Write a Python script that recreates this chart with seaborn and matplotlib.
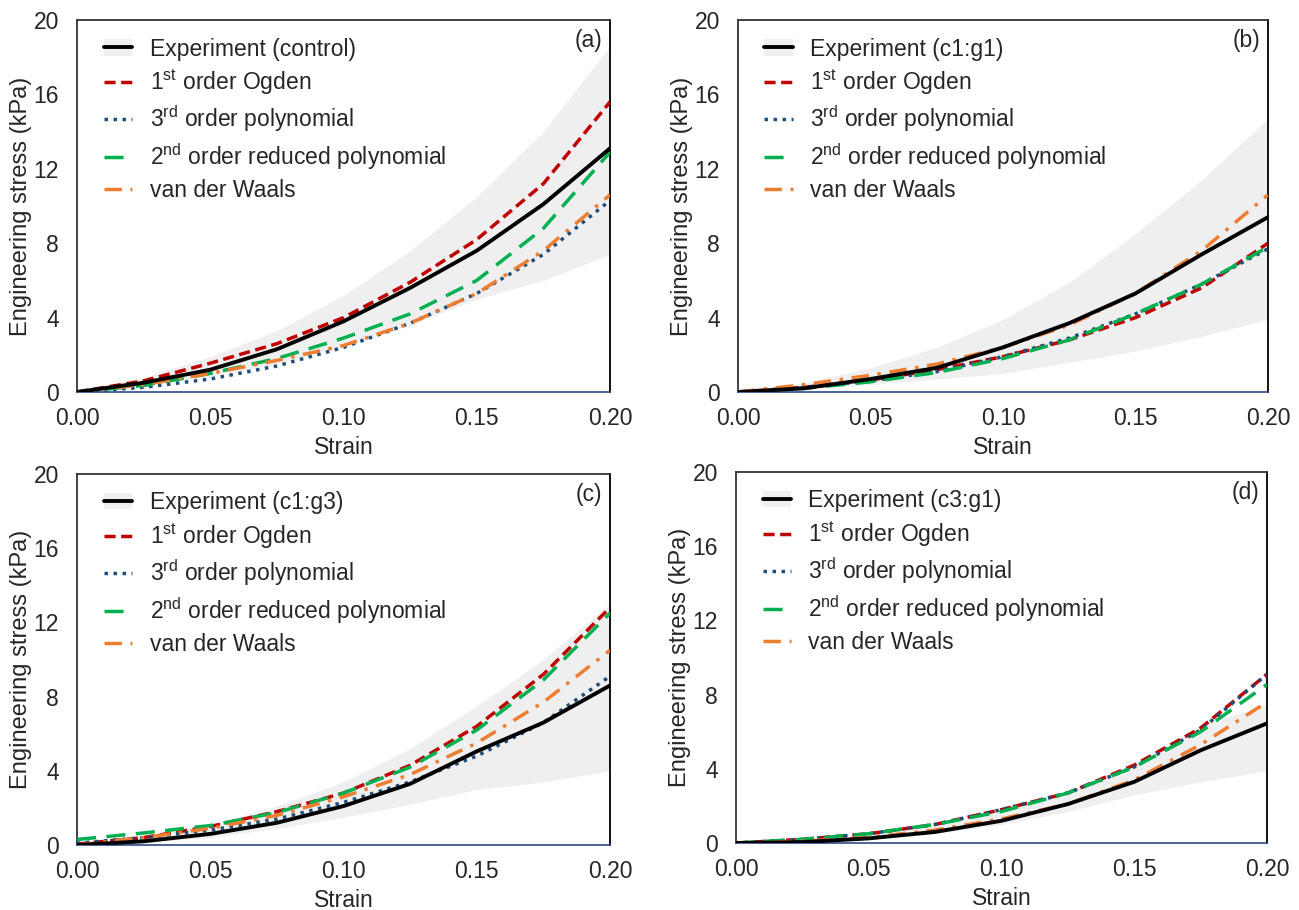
import matplotlib
matplotlib.use("Agg")
import matplotlib.pyplot as plt
from matplotlib.lines import Line2D
from matplotlib.patches import Patch
import seaborn as sns
import numpy as np

sns.set_style("white")
plt.rcParams['font.family'] = ['Liberation Sans', 'DejaVu Sans']
plt.rcParams['mathtext.fontset'] = 'custom'
plt.rcParams['mathtext.rm'] = 'Liberation Sans'
plt.rcParams['mathtext.it'] = 'Liberation Sans'

strain = [0.0, 0.025, 0.05, 0.075, 0.1, 0.125, 0.15, 0.175, 0.2]

# panel (a) control
a_exp = [0, 0.5, 1.2, 2.3, 3.8, 5.6, 7.6, 10.1, 13.1]
a_lo = [0, 0.35, 0.85, 1.5, 2.5, 3.6, 5.0, 6.0, 7.4]
a_hi = [0, 0.8, 1.9, 3.3, 5.2, 7.6, 10.5, 14.0, 18.6]
a_ogden = [0, 0.6, 1.55, 2.6, 4.0, 5.9, 8.2, 11.2, 15.6]
a_poly3 = [0, 0.25, 0.7, 1.4, 2.4, 3.7, 5.3, 7.4, 10.3]
a_red2 = [0, 0.35, 1.0, 1.8, 2.9, 4.2, 6.0, 8.8, 12.9]
a_vdw = [0, 0.4, 1.0, 1.7, 2.5, 3.7, 5.3, 7.6, 10.6]

# panel (b) c1:g1
b_exp = [0, 0.2, 0.7, 1.3, 2.4, 3.7, 5.3, 7.4, 9.4]
b_lo = [0, 0.15, 0.4, 0.7, 1.0, 1.6, 2.2, 3.0, 3.9]
b_hi = [0, 0.5, 1.3, 2.4, 3.9, 5.9, 8.5, 11.4, 14.7]
b_ogden = [0, 0.25, 0.65, 1.2, 1.9, 2.8, 4.0, 5.6, 8.0]
b_poly3 = [0, 0.25, 0.6, 1.1, 1.9, 2.9, 4.2, 5.8, 7.7]
b_red2 = [0, 0.2, 0.55, 1.05, 1.8, 2.8, 4.2, 5.8, 7.8]
b_vdw = [0, 0.4, 0.9, 1.5, 2.4, 3.6, 5.3, 7.6, 10.6]

# panel (c) c1:g3
c_exp = [0, 0.2, 0.6, 1.2, 2.1, 3.3, 5.05, 6.6, 8.6]
c_lo = [0, 0.15, 0.4, 0.9, 1.5, 2.2, 3.0, 3.4, 4.0]
c_hi = [0, 0.45, 1.1, 2.1, 3.4, 5.2, 7.5, 10.0, 13.0]
c_ogden = [0.05, 0.4, 1.0, 1.8, 2.8, 4.3, 6.4, 9.2, 12.8]
c_poly3 = [0.1, 0.4, 0.8, 1.4, 2.3, 3.4, 4.8, 6.6, 9.1]
c_red2 = [0.3, 0.65, 1.05, 1.75, 2.8, 4.2, 6.2, 8.9, 12.5]
c_vdw = [0, 0.4, 0.9, 1.6, 2.6, 3.8, 5.5, 7.7, 10.5]

# panel (d) c3:g1
d_exp = [0, 0.05, 0.25, 0.6, 1.2, 2.1, 3.3, 5.0, 6.45]
d_lo = [0, 0.05, 0.2, 0.5, 1.0, 1.7, 2.6, 3.3, 3.9]
d_hi = [0, 0.1, 0.4, 0.9, 1.7, 2.8, 4.2, 6.3, 7.5]
d_ogden = [0, 0.2, 0.5, 1.0, 1.8, 2.7, 4.2, 6.2, 9.1]
d_poly3 = [0, 0.2, 0.5, 1.0, 1.8, 2.7, 4.1, 6.1, 9.1]
d_red2 = [0, 0.2, 0.5, 1.0, 1.7, 2.7, 4.1, 6.0, 8.55]
d_vdw = [0, 0.1, 0.3, 0.7, 1.3, 2.1, 3.4, 5.3, 7.6]

panels = [
    ("(a)", "Experiment (control)", a_exp, a_lo, a_hi, a_ogden, a_poly3, a_red2, a_vdw),
    ("(b)", "Experiment (c1:g1)", b_exp, b_lo, b_hi, b_ogden, b_poly3, b_red2, b_vdw),
    ("(c)", "Experiment (c1:g3)", c_exp, c_lo, c_hi, c_ogden, c_poly3, c_red2, c_vdw),
    ("(d)", "Experiment (c3:g1)", d_exp, d_lo, d_hi, d_ogden, d_poly3, d_red2, d_vdw),
]

model_labels = ["1$^{\\rm st}$ order Ogden", "3$^{\\rm rd}$ order polynomial",
                "2$^{\\rm nd}$ order reduced polynomial", "van der Waals"]
x_ticks = [0.0, 0.05, 0.1, 0.15, 0.2]
y_ticks = [0, 4, 8, 12, 16, 20]

RED = "#C00000"
BLUE = "#1F4E79"
GREEN = "#00B050"
ORANGE = "#ED7D31"
BAND = "#EFEFEF"
AXBLUE = "#2F4A8C"

styles = [
    (RED, (0, (3.2, 1.6)), 2.5),
    (BLUE, (0, (1, 1.6)), 2.5),
    (GREEN, (0, (5.5, 3.0)), 2.5),
    (ORANGE, (0, (5, 2.5, 1, 2.5)), 2.5),
]

FS = 16.5

fig = plt.figure(figsize=(12.99, 9.10), dpi=100)
positions = [
    [0.0593, 0.5692, 0.4103, 0.4088],
    [0.5681, 0.5692, 0.4080, 0.4088],
    [0.0593, 0.0714, 0.4103, 0.4077],
    [0.5666, 0.0736, 0.4088, 0.4077],
]

for pos, (tag, exp_label, exp, lo, hi, og, p3, r2, vdw) in zip(positions, panels):
    ax = fig.add_axes(pos)
    ax.fill_between(strain, lo, hi, color=BAND, lw=0, zorder=1)
    for (col, ls, lw), ys in zip(styles, [og, p3, r2, vdw]):
        sns.lineplot(x=strain, y=ys, ax=ax, color=col, linestyle=ls, lw=lw, zorder=3)
    sns.lineplot(x=strain, y=exp, ax=ax, color="black", lw=2.8, zorder=4)
    ax.set_xlim(0, 0.2)
    ax.set_ylim(0, 20)
    ax.set_xticks(x_ticks)
    ax.set_xticklabels([f"{t:.2f}" for t in x_ticks])
    ax.set_yticks(y_ticks)
    ax.tick_params(axis='x', direction='in', length=5, width=1, color=AXBLUE,
                   labelsize=FS, pad=11)
    ax.tick_params(axis='y', direction='out', length=4, width=1, color='black',
                   labelsize=FS, pad=9)
    for s in ['left', 'top']:
        ax.spines[s].set_color('#333333')
        ax.spines[s].set_linewidth(1.3)
    ax.spines['right'].set_color('black')
    ax.spines['right'].set_linewidth(1.3)
    ax.spines['bottom'].set_color(AXBLUE)
    ax.spines['bottom'].set_linewidth(1.2)
    ax.set_xlabel("Strain", fontsize=FS, labelpad=4)
    ax.set_ylabel("Engineering stress (kPa)", fontsize=FS + 0.5, labelpad=1)
    ax.text(0.985, 0.975, tag, transform=ax.transAxes, ha='right', va='top', fontsize=FS)

    handles = [(Patch(facecolor=BAND, edgecolor='none'), Line2D([], [], color='black', lw=2.8))]
    for col, ls, lw in styles:
        handles.append(Line2D([], [], color=col, linestyle=ls, lw=lw))
    labels = [exp_label] + model_labels
    ax.legend(handles, labels, loc='upper left', bbox_to_anchor=(0.05, 0.953),
              frameon=False, fontsize=FS, handlelength=1.25, handletextpad=0.75,
              labelspacing=0.3, borderaxespad=0.0, borderpad=0.0)

fig.savefig("out.png", dpi=100)
